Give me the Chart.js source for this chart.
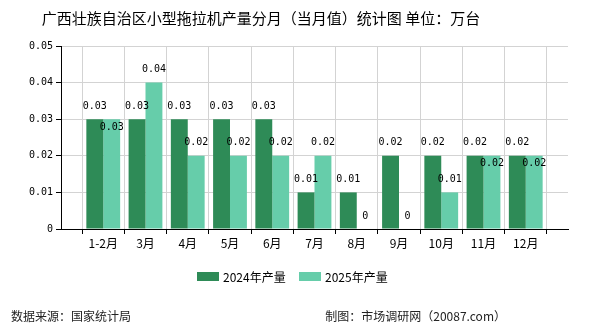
<!DOCTYPE html>
<html>
<head>
<meta charset="utf-8">
<script src="https://cdn.jsdelivr.net/npm/chart.js@4"></script>
<style>
html,body{margin:0;padding:0;background:#fff;}
#wrap{width:590px;height:330px;position:relative;}
</style>
</head>
<body>
<div id="wrap"><canvas id="c" width="590" height="330"></canvas></div>
<script>
const categories = ['1-2月','3月','4月','5月','6月','7月','8月','9月','10月','11月','12月'];
const series2024 = [0.03,0.03,0.03,0.03,0.03,0.01,0.01,0.02,0.02,0.02,0.02];
const series2025 = [0.03,0.04,0.02,0.02,0.02,0.02,0,0,0.01,0.02,0.02];
const seriesNames = ['2024年产量','2025年产量'];
const yTickValues = [0,0.01,0.02,0.03,0.04,0.05];
const titleText = '广西壮族自治区小型拖拉机产量分月（当月值）统计图 单位：万台';
const sourceText = '数据来源：国家统计局';
const creditText = '制图：市场调研网（20087.com）';

const colors = ['#2e8b57','#66cdaa'];
const CJK = '"Noto Sans CJK SC", "DejaVu Sans", sans-serif';
const MONO = '"DejaVu Sans Mono", monospace';

const labels = [''].concat(categories, ['']);
const pad = arr => [null].concat(arr, [null]);

const decor = {
  id: 'decor',
  afterDatasetsDraw(chart) {
    const ctx = chart.ctx;
    ctx.save();
    ctx.font = '10px ' + MONO;
    ctx.fillStyle = '#000';
    ctx.textAlign = 'center';
    ctx.textBaseline = 'middle';
    const placed = [];
    chart.data.datasets.forEach((ds, di) => {
      const meta = chart.getDatasetMeta(di);
      meta.data.forEach((bar, i) => {
        const v = ds.data[i];
        if (v === null || v === undefined) return;
        let y = bar.y - 13;
        if (di > 0) {
          const prev = placed[i];
          if (prev !== undefined && Math.abs(prev - y) < 14) y = prev + 21;
        } else {
          placed[i] = y;
        }
        ctx.fillText(String(v), bar.x, y);
      });
    });
    ctx.restore();
  },
  afterDraw(chart) {
    const ctx = chart.ctx;
    ctx.save();
    ctx.fillStyle = '#000';
    ctx.textBaseline = 'middle';
    ctx.textAlign = 'center';
    ctx.font = '15px ' + CJK;
    ctx.fillText(titleText, 261, 18);
    // legend
    ctx.font = '12px ' + CJK;
    ctx.textAlign = 'left';
    const legendX = [197, 299];
    chart.data.datasets.forEach((ds, di) => {
      ctx.fillStyle = ds.backgroundColor;
      ctx.fillRect(legendX[di], 272, 22, 9);
      ctx.fillStyle = '#000';
      ctx.fillText(ds.label, legendX[di] + 26, 277);
    });
    // footer
    ctx.fillStyle = '#222';
    ctx.font = '12px ' + CJK;
    ctx.textAlign = 'left';
    ctx.fillText(sourceText, 11, 316);
    ctx.textAlign = 'right';
    ctx.fillText(creditText, 506, 316);
    ctx.restore();
  }
};

new Chart(document.getElementById('c'), {
  type: 'bar',
  data: {
    labels: labels,
    datasets: [
      { label: seriesNames[0], data: pad(series2024), backgroundColor: colors[0] },
      { label: seriesNames[1], data: pad(series2025), backgroundColor: colors[1] }
    ]
  },
  options: {
    responsive: false,
    animation: false,
    devicePixelRatio: 1,
    layout: { padding: { top: 46, right: 22, bottom: 71, left: 0 } },
    plugins: { legend: { display: false }, title: { display: false }, tooltip: { enabled: false } },
    datasets: { bar: { categoryPercentage: 0.8, barPercentage: 1.0 } },
    scales: {
      x: {
        type: 'category',
        offset: false,
        border: { color: '#000', width: 1 },
        grid: { color: '#d3d3d3', tickColor: '#000', tickLength: 5, drawTicks: true },
        ticks: { color: '#000', font: { size: 12, family: CJK }, padding: 2, maxRotation: 0, autoSkip: false },
        afterFit(scale) { scale.height = 30; }
      },
      y: {
        min: 0, max: 0.05,
        border: { color: '#000', width: 1 },
        grid: { color: '#d3d3d3', tickColor: '#000', tickLength: 5 },
        afterBuildTicks(scale) { scale.ticks = yTickValues.map(v => ({ value: v })); },
        ticks: { color: '#000', font: { size: 10, family: MONO }, padding: 3,
                 callback: v => String(Math.round(v * 100) / 100) },
        afterFit(scale) { scale.width = 61; }
      }
    }
  },
  plugins: [decor]
});
</script>
</body>
</html>
